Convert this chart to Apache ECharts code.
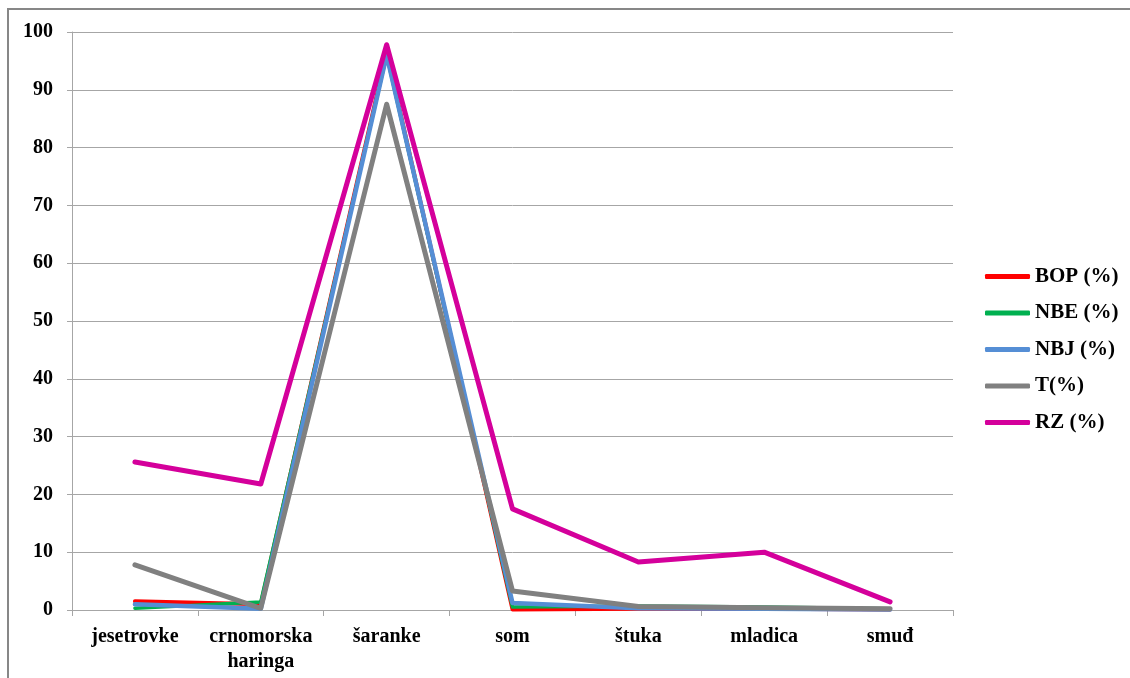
<!DOCTYPE html>
<html>
<head>
<meta charset="utf-8">
<script src="https://cdn.jsdelivr.net/npm/echarts@6/dist/echarts.min.js"></script>
<style>
html,body{margin:0;padding:0;background:#fff;}
#chart{width:1130px;height:678px;}
</style>
</head>
<body>
<div id="chart"></div>
<script>
const categories = ['jesetrovke', 'crnomorska\nharinga', 'šaranke', 'som', 'štuka', 'mladica', 'smuđ'];
const seriesNames = ['BOP (%)', 'NBE (%)', 'NBJ (%)', 'T(%)', 'RZ (%)'];
const bop = [1.5, 1.0, 96.5, 0.1, 0.2, 0.2, 0.1];
const nbe = [0.3, 1.4, 96.0, 0.5, 0.7, 0.5, 0.2];
const nbj = [1.0, 0.2, 96.0, 1.2, 0.3, 0.2, 0.1];
const t = [7.8, 0.3, 87.5, 3.3, 0.6, 0.4, 0.2];
const rz = [25.6, 21.8, 97.8, 17.5, 8.3, 10.0, 1.4];
const yTicks = { min: 0, max: 100, interval: 10 };

const colors = ['#ff0000', '#00b050', '#558ed5', '#808080', '#d4009b'];
const widths = [4, 3.5, 4.5, 5, 5];
const values = [bop, nbe, nbj, t, rz];

const chart = echarts.init(document.getElementById('chart'));
const font = '"Liberation Serif", "Times New Roman", serif';
chart.setOption({
  animation: false,
  backgroundColor: '#fff',
  graphic: [{
    type: 'rect',
    shape: { x: 8, y: 9, width: 1200, height: 1000 },
    style: { fill: 'none', stroke: '#878787', lineWidth: 2 },
    silent: true
  }],
  grid: { left: 72, right: 177, top: 32, bottom: 68 },
  legend: {
    orient: 'vertical',
    left: 980,
    top: 261,
    itemWidth: 45,
    itemHeight: 5,
    itemGap: 15.5,
    icon: 'roundRect',
    textStyle: { fontFamily: font, fontWeight: 'bold', fontSize: 21, color: '#000' },
    data: seriesNames
  },
  xAxis: {
    type: 'category',
    data: categories,
    boundaryGap: true,
    axisLine: { lineStyle: { color: '#a6a6a6', width: 1 } },
    axisTick: { show: true, length: 6, lineStyle: { color: '#a6a6a6' } },
    axisLabel: {
      interval: 0,
      margin: 14,
      fontFamily: font,
      fontWeight: 'bold',
      fontSize: 20,
      color: '#000',
      lineHeight: 25
    }
  },
  yAxis: {
    type: 'value',
    min: yTicks.min,
    max: yTicks.max,
    interval: yTicks.interval,
    axisLine: { show: true, lineStyle: { color: '#a6a6a6', width: 1 } },
    axisTick: { show: true, length: 5, lineStyle: { color: '#a6a6a6' } },
    splitLine: { lineStyle: { color: '#a6a6a6', width: 1 } },
    axisLabel: {
      margin: 19,
      fontFamily: font,
      fontWeight: 'bold',
      fontSize: 20,
      color: '#000'
    }
  },
  series: seriesNames.map((n, i) => ({
    name: n,
    type: 'line',
    data: values[i],
    symbol: 'none',
    color: colors[i],
    lineStyle: { width: widths[i], color: colors[i], cap: 'round', join: 'round' },
    itemStyle: { color: colors[i] },
    z: 2 + i
  }))
});
</script>
</body>
</html>
